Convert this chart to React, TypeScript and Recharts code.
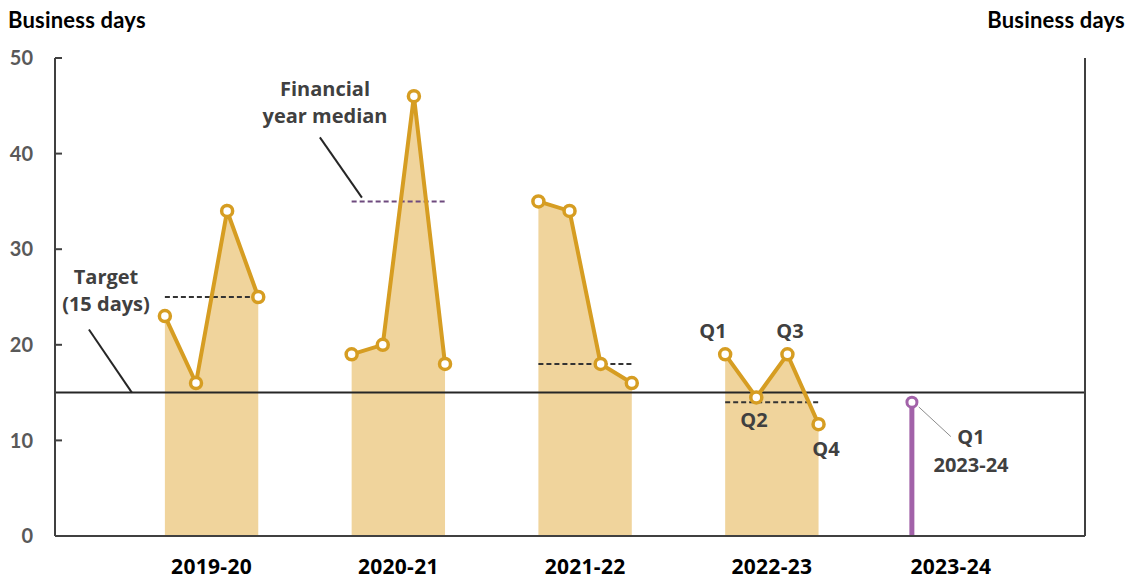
import { ComposedChart, Area, Line, Bar, XAxis, YAxis, ReferenceLine } from "recharts"

const years = ["2019-20", "2020-21", "2021-22", "2022-23", "2023-24"]
// quarterly medians (business days), Q1..Q4 for each completed year
const quarterly = [
  [23, 16, 34, 25],
  [19, 20, 46, 18],
  [35, 34, 18, 16],
  [19, 14.5, 19, 11.7],
]
const yearMedians = [25, 35, 18, 14]
const latestQ1 = 14 // Q1 2023-24
const target = 15
const yTicks = [0, 10, 20, 30, 40, 50]
const yearTickPos = [1.5, 7.5, 13.5, 19.5, 25.25]

const GOLD = "#D69D22"
const FILL = "#F0D49C"
const PURPLE = "#A262A9"
const DARK = "#404040"
const LATO = "Lato, 'Open Sans', sans-serif"
const OPEN = "'Open Sans', Lato, sans-serif"

// one row per quarter, with a gap row after each year so lines/areas break
const data: any[] = []
quarterly.forEach((vals, yi) => {
  vals.forEach((v, qi) => {
    data.push({
      x: yi * 6 + qi,
      value: v,
      area: v,
      median: yi === 1 ? null : yearMedians[yi],
      medianHi: yi === 1 ? yearMedians[yi] : null,
    })
  })
  data.push({ x: yi * 6 + 4.5, value: null, area: null, median: null, medianHi: null })
})
data.push({ x: 24, latest: latestQ1 })

const leaders = [
  { from: { x: 4.98, y: 41.7 }, to: { x: 6.33, y: 35.4 }, color: "#262626", w: 2 },
  { from: { x: -2.44, y: 21.6 }, to: { x: -1.06, y: 15 }, color: "#262626", w: 2 },
  { from: { x: 24.22, y: 13.5 }, to: { x: 25.25, y: 10.4 }, color: "#8c8c8c", w: 1 },
]

const tickStyle = { fill: "#595959", fontSize: 20, fontWeight: 700, fontFamily: LATO }
const annot = { fill: DARK, fontSize: 20, fontWeight: 700, fontFamily: OPEN }

export default function App() {
  return (
    <div style={{ position: "absolute", left: 0, top: 0, width: 1140, height: 581, background: "#fff" }}>
      <ComposedChart width={1140} height={581} data={data} margin={{ top: 58, right: 0, left: 0, bottom: 0 }}>
        <XAxis
          type="number"
          dataKey="x"
          domain={[-3.53, 29.56]}
          ticks={yearTickPos}
          interval={0}
          tickFormatter={(v) => years[yearTickPos.indexOf(v)] ?? ""}
          axisLine={{ stroke: DARK, strokeWidth: 2 }}
          tickLine={false}
          tickSize={0}
          tickMargin={23}
          height={45}
          tick={{ fill: "#000", fontSize: 21, fontWeight: 700, fontFamily: OPEN, letterSpacing: 0.3 }}
        />
        <YAxis
          yAxisId="left"
          orientation="left"
          width={55}
          domain={[0, 50]}
          ticks={yTicks}
          axisLine={{ stroke: DARK, strokeWidth: 2 }}
          tickLine={{ stroke: DARK, strokeWidth: 2 }}
          tickSize={-7}
          tickMargin={29}
          tick={tickStyle}
        />
        <YAxis
          yAxisId="right"
          orientation="right"
          width={55}
          domain={[0, 50]}
          ticks={yTicks}
          axisLine={{ stroke: DARK, strokeWidth: 2 }}
          tickLine={{ stroke: DARK, strokeWidth: 2 }}
          tickSize={-7}
          tickMargin={30}
          tick={tickStyle}
        />
        <Area
          yAxisId="left"
          dataKey="area"
          type="linear"
          fill={FILL}
          fillOpacity={1}
          stroke="none"
          isAnimationActive={false}
        />
        <ReferenceLine yAxisId="left" y={target} stroke="#262626" strokeWidth={2} />
        {leaders.map((l, i) => (
          <ReferenceLine
            key={i}
            yAxisId="left"
            segment={[l.from, l.to]}
            stroke={l.color}
            strokeWidth={l.w}
            ifOverflow="visible"
          />
        ))}
        <Line
          yAxisId="left"
          dataKey="median"
          type="linear"
          stroke="#333"
          strokeWidth={2}
          strokeDasharray="5 3"
          dot={false}
          isAnimationActive={false}
        />
        <Line
          yAxisId="left"
          dataKey="medianHi"
          type="linear"
          stroke="#6E4A7E"
          strokeWidth={2}
          strokeDasharray="5 3"
          dot={false}
          isAnimationActive={false}
        />
        <Line
          yAxisId="left"
          dataKey="value"
          type="linear"
          stroke={GOLD}
          strokeWidth={4}
          dot={{ r: 5.5, fill: "#fff", stroke: GOLD, strokeWidth: 3.5 }}
          isAnimationActive={false}
        />
        <Bar yAxisId="left" dataKey="latest" fill={PURPLE} barSize={5} isAnimationActive={false} />
        <Line
          yAxisId="left"
          dataKey="latest"
          type="linear"
          stroke={PURPLE}
          strokeWidth={4}
          dot={{ r: 5, fill: "#fff", stroke: PURPLE, strokeWidth: 3 }}
          isAnimationActive={false}
        />
      </ComposedChart>
      <svg
        width={1140}
        height={581}
        style={{ position: "absolute", left: 0, top: 0, pointerEvents: "none" }}
      >
        <text x={8} y={28} fill="#000" fontSize={22} fontWeight={700} fontFamily={LATO} letterSpacing={0.2}>
          Business days
        </text>
        <text x={1125} y={28} fill="#000" fontSize={22} fontWeight={700} fontFamily={LATO} letterSpacing={0.2} textAnchor="end">
          Business days
        </text>
        <text x={325} y={96} textAnchor="middle" {...annot}>Financial</text>
        <text x={325} y={123} textAnchor="middle" {...annot}>year median</text>
        <text x={106} y={284} textAnchor="middle" {...annot}>Target</text>
        <text x={106} y={311} textAnchor="middle" {...annot}>(15 days)</text>
        <text x={713} y={338} textAnchor="middle" {...annot}>Q1</text>
        <text x={754} y={427} textAnchor="middle" {...annot}>Q2</text>
        <text x={790} y={338} textAnchor="middle" {...annot}>Q3</text>
        <text x={826} y={456} textAnchor="middle" {...annot}>Q4</text>
        <text x={971} y={444} textAnchor="middle" {...annot}>Q1</text>
        <text x={971} y={472} textAnchor="middle" {...annot}>2023-24</text>
      </svg>
    </div>
  )
}
